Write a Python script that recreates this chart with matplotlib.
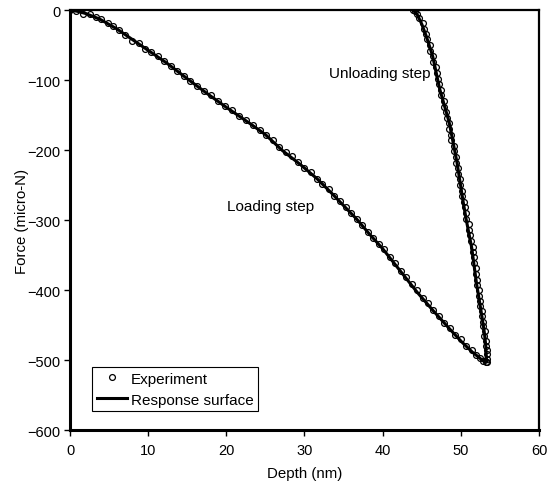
import matplotlib
matplotlib.use("Agg")
import matplotlib.pyplot as plt
from matplotlib.lines import Line2D

plt.rcParams['font.family'] = ['Liberation Sans', 'DejaVu Sans']

# Experimental indentation record: loading branch
load_depth = [0.0, 0.8, 1.7, 2.5, 3.3, 4.0, 4.8, 5.5, 6.3, 7.1, 7.9, 8.8, 9.6,
              10.4, 11.2, 12.0, 12.9, 13.7, 14.6, 15.4, 16.3, 17.1, 18.0, 18.9,
              19.8, 20.7, 21.6, 22.5, 23.4, 24.3, 25.1, 26.0, 26.8, 27.6, 28.4,
              29.2, 30.0, 30.8, 31.6, 32.3, 33.1, 33.8, 34.6, 35.3, 36.0, 36.7,
              37.4, 38.1, 38.8, 39.5, 40.2, 40.9, 41.6, 42.3, 43.0, 43.7, 44.4,
              45.1, 45.8, 46.5, 47.2, 47.9, 48.6, 49.3, 50.0, 50.7, 51.4, 52.0,
              52.5, 52.9, 53.2]
load_force = [0, -1, -5, -6, -10, -13, -19, -23, -29, -36, -44, -47, -55,
              -60, -66, -73, -80, -87, -94, -101, -108, -116, -122, -130,
              -137, -143, -151, -157, -164, -171, -179, -186, -195, -203, -209,
              -217, -225, -232, -241, -248, -256, -265, -273, -282, -290, -298,
              -307, -317, -325, -334, -342, -353, -362, -373, -381, -392, -400,
              -411, -419, -428, -437, -447, -454, -464, -470, -480, -486, -493,
              -497, -501, -503]

# Experimental indentation record: unloading branch
unload_depth = [53.3, 53.4, 53.3, 53.3, 53.2, 53.2, 53.0, 53.1, 52.9, 52.9,
                52.7, 52.7, 52.5, 52.5, 52.3, 52.3, 52.1, 52.1, 51.9, 51.9,
                51.7, 51.7, 51.5, 51.5, 51.3, 51.2, 51.0, 51.0, 50.7, 50.7,
                50.5, 50.4, 50.2, 50.2, 49.9, 49.9, 49.7, 49.6, 49.4, 49.4,
                49.1, 49.1, 48.8, 48.8, 48.5, 48.5, 48.2, 48.1, 47.9, 47.8,
                47.5, 47.5, 47.2, 47.1, 46.9, 46.8, 46.5, 46.4, 46.1, 46.0,
                45.7, 45.6, 45.3, 45.1, 44.7, 44.4, 44.1, 43.9]
unload_force = [-503, -498, -492, -486, -480, -473, -466, -459, -452, -445,
                -437, -430, -423, -416, -408, -400, -393, -385, -377, -369,
                -361, -353, -346, -338, -330, -322, -314, -306, -298, -290,
                -282, -274, -266, -258, -250, -242, -234, -226, -218, -210,
                -202, -194, -186, -178, -170, -162, -154, -146, -138, -130,
                -122, -114, -106, -98, -90, -82, -74, -66, -58, -50,
                -42, -34, -27, -19, -12, -6, -2, 0]

# Response surface prediction (loading then unloading)
rs_depth = [0.0, 1.0, 2.0, 3.8, 6.0, 9.0, 12.4, 15.1, 17.5, 20.0, 23.0, 25.0,
            27.2, 29.5, 31.6, 33.5, 35.4, 36.7, 38.3, 40.0, 42.2, 44.4, 46.5,
            48.6, 50.1, 51.5, 52.3, 52.8, 53.3,
            53.2, 53.0, 52.7, 52.4, 52.0, 51.4, 50.7, 50.3, 49.5, 48.5, 47.3,
            46.4, 45.6, 45.0, 44.4, 43.9]
rs_force = [0, -2, -5, -13, -27, -50, -76, -99, -119, -139, -162, -178,
            -201, -221, -241, -262, -284, -299, -320, -341, -372, -403, -430,
            -456, -474, -489, -496, -501, -503,
            -480, -460, -438, -417, -390, -340, -300, -274, -217, -160, -113,
            -66, -38, -20, -6, 0]

x_ticks = [0, 10, 20, 30, 40, 50, 60]
y_ticks = [0, -100, -200, -300, -400, -500, -600]

fig = plt.figure(figsize=(5.56, 4.89), dpi=100)
ax = fig.add_axes([0.1259, 0.1186, 0.8435, 0.8589])

ax.plot(load_depth + unload_depth, load_force + unload_force, linestyle='none',
        marker='o', markersize=4.2, markerfacecolor='none',
        markeredgecolor='black', markeredgewidth=0.9, zorder=2)
ax.plot(rs_depth, rs_force, color='black', linewidth=2.2, zorder=3)

ax.set_xlim(0, 60)
ax.set_ylim(-600, 0)
ax.set_xticks(x_ticks)
ax.set_yticks(y_ticks)
ax.tick_params(axis='both', direction='out', length=4, width=1.0,
               labelsize=10.5, colors='black', pad=3)
ax.tick_params(axis='x', pad=5)

for side in ['left', 'bottom']:
    ax.spines[side].set_linewidth(2.2)
for side in ['top', 'right']:
    ax.spines[side].set_linewidth(1.6)

ax.set_xlabel('Depth (nm)', fontsize=10.8, labelpad=7)
ax.set_ylabel('Force (micro-N)', fontsize=10.8, labelpad=-1)

ax.text(39.6, -90, 'Unloading step', fontsize=11, ha='center', va='center')
ax.text(25.6, -280, 'Loading step', fontsize=11, ha='center', va='center')

handles = [Line2D([], [], linestyle='none', marker='o', markersize=4.2,
                  markerfacecolor='none', markeredgecolor='black',
                  markeredgewidth=0.9),
           Line2D([], [], color='black', linewidth=2.2)]
leg = ax.legend(handles, ['Experiment', 'Response surface'],
                loc='lower left', bbox_to_anchor=(0.047, 0.045),
                fontsize=11, frameon=True, fancybox=False, framealpha=1,
                edgecolor='black', handlelength=2.0, handletextpad=0.25,
                borderpad=0.3, labelspacing=0.45, borderaxespad=0)
leg.get_frame().set_linewidth(0.8)

fig.savefig('out.png', dpi=100)
